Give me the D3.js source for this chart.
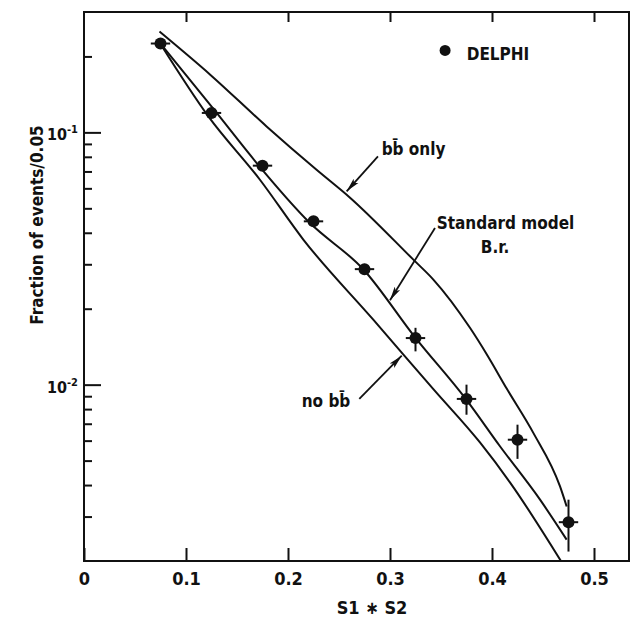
<!DOCTYPE html>
<html>
<head>
<meta charset="utf-8">
<script src="https://cdn.jsdelivr.net/npm/d3@7"></script>
<style>
  body { margin: 0; background: #fff; }
  svg text { font-family: "DejaVu Sans Condensed", "DejaVu Sans", sans-serif; font-weight: bold; fill: #111; }
</style>
</head>
<body>
<svg width="630" height="619"></svg>
<script>
// DELPHI points, S1*S2 bins of width 0.05
var sBins = [0.075, 0.125, 0.175, 0.225, 0.275, 0.325, 0.375, 0.425, 0.475];
var fracData = [0.225, 0.1194, 0.0738, 0.0444, 0.0287, 0.0153, 0.00878, 0.00605, 0.00285];
var fracLow = [0.219, 0.116, 0.0716, 0.0429, 0.0274, 0.01355, 0.0076, 0.00508, 0.00218];
var fracHigh = [0.231, 0.123, 0.0760, 0.0460, 0.0301, 0.0168, 0.0100, 0.00694, 0.0035];
var binHalf = 0.0095;

// model curves
var bbOnlyS = [0.074, 0.124, 0.179, 0.228, 0.26, 0.3229, 0.3425, 0.3784, 0.3948, 0.4144, 0.4405, 0.4667, 0.4732];
var bbOnlyF = [0.251, 0.169, 0.1056, 0.0711, 0.0555, 0.0313, 0.0261, 0.0168, 0.0132, 0.00965, 0.00644, 0.00395, 0.00329];
var smS = [0.075, 0.1301, 0.1693, 0.2216, 0.274, 0.324, 0.375, 0.4078, 0.4471, 0.4732];
var smF = [0.225, 0.1194, 0.0756, 0.0437, 0.0286, 0.0155, 0.0087, 0.0057, 0.0035, 0.00243];
var noBbS = [0.075, 0.1219, 0.1725, 0.215, 0.2836, 0.3425, 0.3882, 0.4176, 0.4676];
var noBbF = [0.224, 0.1157, 0.0649, 0.0376, 0.0181, 0.0096, 0.0059, 0.0041, 0.002];

var xTicks = [0, 0.1, 0.2, 0.3, 0.4, 0.5];
var yMajor = [0.1, 0.01];
var yMinor = [0.2, 0.09, 0.08, 0.07, 0.06, 0.05, 0.04, 0.03, 0.02, 0.009, 0.008, 0.007, 0.006, 0.005, 0.004, 0.003];

var margin = { left: 84, top: 12, right: 629, bottom: 561 }

var x = d3.scaleLinear()
  .domain([0, 0.5])
  .range([margin.left, 594])

var y = d3.scaleLog()
  .domain([0.002, 0.3])
  .range([margin.bottom, margin.top])

var svg = d3.select('svg')

svg.append('defs').append('clipPath').attr('id', 'frame')
  .append('rect')
  .attr('x', margin.left).attr('y', margin.top)
  .attr('width', margin.right - margin.left).attr('height', margin.bottom - margin.top)

var arrow = svg.select('defs').append('marker')
  .attr('id', 'arrow')
  .attr('markerUnits', 'userSpaceOnUse')
  .attr('viewBox', '0 -4 14 8')
  .attr('refX', 14).attr('refY', 0)
  .attr('markerWidth', 14).attr('markerHeight', 8)
  .attr('orient', 'auto')
arrow.append('path').attr('d', 'M0,-3.2L14,0L0,3.2L3,0Z').attr('fill', '#111')

// axes (ticks point inward)
var bottom = svg.append('g')
  .attr('transform', 'translate(0,' + margin.bottom + ')')
  .call(d3.axisBottom(x).tickValues(xTicks).tickSize(-13).tickPadding(11)
    .tickFormat(d => d === 0 ? '0' : d3.format('.1f')(d)))
svg.append('g')
  .attr('transform', 'translate(0,' + margin.top + ')')
  .call(d3.axisTop(x).tickValues(xTicks.slice(1)).tickSize(-10).tickFormat(''))
svg.append('g')
  .attr('transform', 'translate(' + margin.left + ',0)')
  .call(d3.axisLeft(y).tickValues(yMinor).tickSize(-8).tickFormat(''))
svg.append('g')
  .attr('transform', 'translate(' + margin.left + ',0)')
  .call(d3.axisLeft(y).tickValues(yMajor).tickSize(-17).tickFormat(''))

svg.selectAll('.domain').remove()
svg.selectAll('.tick line').attr('stroke', '#111').attr('stroke-width', 2)
bottom.selectAll('text').attr('font-size', 18).attr('fill', '#111')
  .style('font-family', '"DejaVu Sans Condensed", "DejaVu Sans", sans-serif').style('font-weight', 'bold')

// 10^-n labels
var yLab = svg.append('g').selectAll('text')
  .data(yMajor)
  .enter().append('text')
  .attr('x', 78)
  .attr('y', d => y(d) + 8)
  .attr('text-anchor', 'end')
  .attr('font-size', 16)
yLab.append('tspan').text('10')
yLab.append('tspan').attr('dy', -7).attr('font-size', 11).text(d => '-' + Math.round(-Math.log10(d)))

svg.append('rect')
  .attr('x', margin.left).attr('y', margin.top)
  .attr('width', margin.right - margin.left).attr('height', margin.bottom - margin.top)
  .attr('fill', 'none').attr('stroke', '#111').attr('stroke-width', 2)

// curves
var line = d3.line()
  .x(d => x(d[0]))
  .y(d => y(d[1]))
  .curve(d3.curveMonotoneX)

var curves = [d3.zip(bbOnlyS, bbOnlyF), d3.zip(smS, smF), d3.zip(noBbS, noBbF)]
svg.append('g').attr('clip-path', 'url(#frame)')
  .selectAll('path')
  .data(curves)
  .enter().append('path')
  .attr('d', line)
  .attr('fill', 'none')
  .attr('stroke', '#111')
  .attr('stroke-width', 2)

// data points with error bars
var pts = svg.append('g').selectAll('g')
  .data(sBins)
  .enter().append('g')
pts.append('line')
  .attr('x1', d => x(d)).attr('x2', d => x(d))
  .attr('y1', (d, i) => y(fracLow[i])).attr('y2', (d, i) => y(fracHigh[i]))
  .attr('stroke', '#111').attr('stroke-width', 2)
pts.append('line')
  .attr('x1', d => x(d - binHalf)).attr('x2', d => x(d + binHalf))
  .attr('y1', (d, i) => y(fracData[i])).attr('y2', (d, i) => y(fracData[i]))
  .attr('stroke', '#111').attr('stroke-width', 2)
pts.append('circle')
  .attr('cx', d => x(d))
  .attr('cy', (d, i) => y(fracData[i]))
  .attr('r', 6)
  .attr('fill', '#111')

// legend
svg.append('circle').attr('cx', x(0.354)).attr('cy', y(0.2113)).attr('r', 5.5).attr('fill', '#111')
svg.append('text').attr('x', x(0.3752)).attr('y', y(0.194)).attr('font-size', 17).text('DELPHI')

// annotations
var notes = [
  { text: 'bb\u0304 only', tx: 0.2918, ty: 0.081, from: [0.2882, 0.0803], to: [0.2575, 0.0584] },
  { text: 'Standard model', tx: 0.3458, ty: 0.0415, from: [0.3441, 0.0418], to: [0.3, 0.0216] },
  { text: 'no  bb\u0304', tx: 0.2134, ty: 0.00815, from: [0.2699, 0.00878], to: [0.3115, 0.01303] }
]
notes.forEach(n => {
  svg.append('text').attr('x', x(n.tx)).attr('y', y(n.ty)).attr('font-size', 17).text(n.text)
  svg.append('line')
    .attr('x1', x(n.from[0])).attr('y1', y(n.from[1]))
    .attr('x2', x(n.to[0])).attr('y2', y(n.to[1]))
    .attr('stroke', '#111').attr('stroke-width', 1.8)
    .attr('marker-end', 'url(#arrow)')
})
svg.append('text').attr('x', 495).attr('y', y(0.0334)).attr('text-anchor', 'middle').attr('font-size', 17).text('B.r.')

// axis titles
svg.append('text')
  .attr('x', 372).attr('y', 614)
  .attr('text-anchor', 'middle')
  .attr('font-size', 18)
  .text('S1 \u2217 S2')

svg.append('text')
  .attr('transform', 'translate(43,225) rotate(-90)')
  .attr('text-anchor', 'middle')
  .attr('font-size', 17)
  .text('Fraction of events/0.05')
</script>
</body>
</html>
